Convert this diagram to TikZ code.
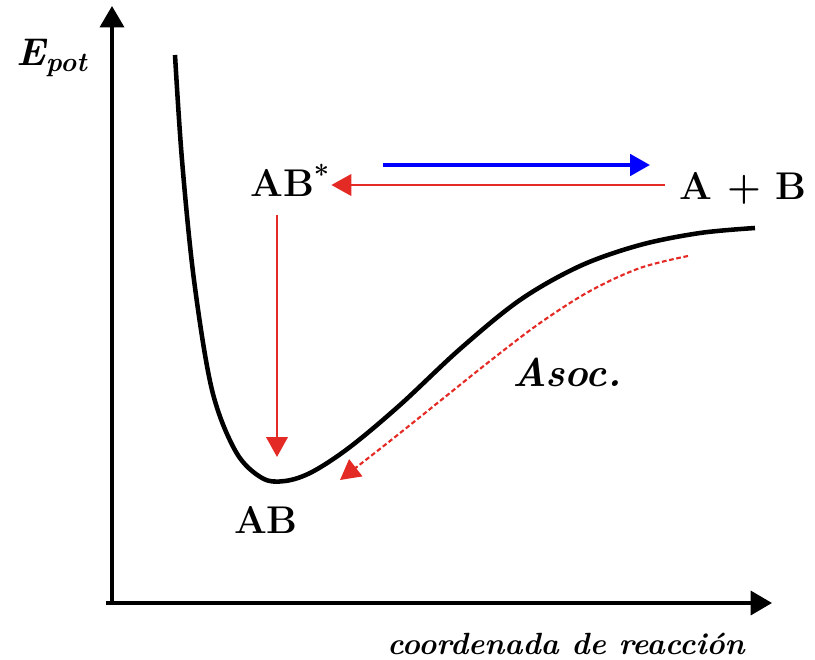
\documentclass[tikz,border=0pt]{standalone}
\usetikzlibrary{arrows.meta,positioning}
\definecolor{rojo}{RGB}{228,42,36}
\definecolor{azul}{RGB}{0,0,255}
\tikzset{every picture/.style={line width=0.75pt}}

\begin{document}
\begin{tikzpicture}[x=0.75pt,y=0.75pt,yscale=-1,xscale=1,
  eje/.style={line width=2.6pt,-{Triangle[length=16pt,width=18pt]}},
  flecha/.style={line width=2.2pt,-{Triangle[length=15pt,width=16pt]}},
  etiqueta/.style={inner sep=0.75pt,font=\fontsize{29}{32}\selectfont\bfseries}]
\useasboundingbox (0,0) rectangle (815,660);

%Axes
\coordinate (origen) at (112,603);
\coordinate (ytop) at (112,6);
\coordinate (xend) at (772,603);
\draw [eje] (112,605) -- (ytop);
\draw [eje] (106,603) -- (xend);

%Potential curve
\draw [line width=3.4pt] plot [smooth, tension=0.55] coordinates {(175,55) (182,160) (194,280) (212,390) (236,452) (262,478) (285,481) (312,472) (350,447) (400,405) (460,349) (520,300) (580,266) (640,245) (700,233) (755,228)};

% Text Node
\node [etiqueta] (epot) at (52,58) {\itshape E\textsubscript{pot}};
% Text Node
\node [etiqueta] (abst) at (290,180) {AB\textsuperscript{*}};
% Text Node
\node [etiqueta] (ab) at (743,188) {A + B};
% Text Node
\node [etiqueta] (abmin) at (266,520) {AB};
% Text Node
\node [etiqueta, font=\fontsize{30}{32}\selectfont\bfseries\itshape] (asoc) at (567,372) {Asoc.};
% Text Node
\node [etiqueta, font=\fontsize{23}{26}\selectfont\bfseries\itshape] (coord) at (566,644) {coordenada de reacción};

%Arrows
\coordinate (azul0) at (383,165);
\coordinate (azul1) at (650,165);
\draw [flecha, azul, line width=3pt] (azul0) -- (azul1);
\draw [flecha, rojo] (665,185) -- (abst.east |- 0,185);
\coordinate (rojo0) at (277,215);
\coordinate (rojo1) at (277,457);
\draw [flecha, rojo] (rojo0) -- (rojo1);

%Dotted curve
\draw [rojo, line width=1.6pt, dash pattern=on 3.5pt off 2pt, -{Triangle[length=15pt,width=16pt]}] plot [smooth, tension=0.55] coordinates {(688,256) (640,268) (590,291) (540,323) (490,361) (440,401) (390,441) (340,480)};

\end{tikzpicture}
\end{document}
